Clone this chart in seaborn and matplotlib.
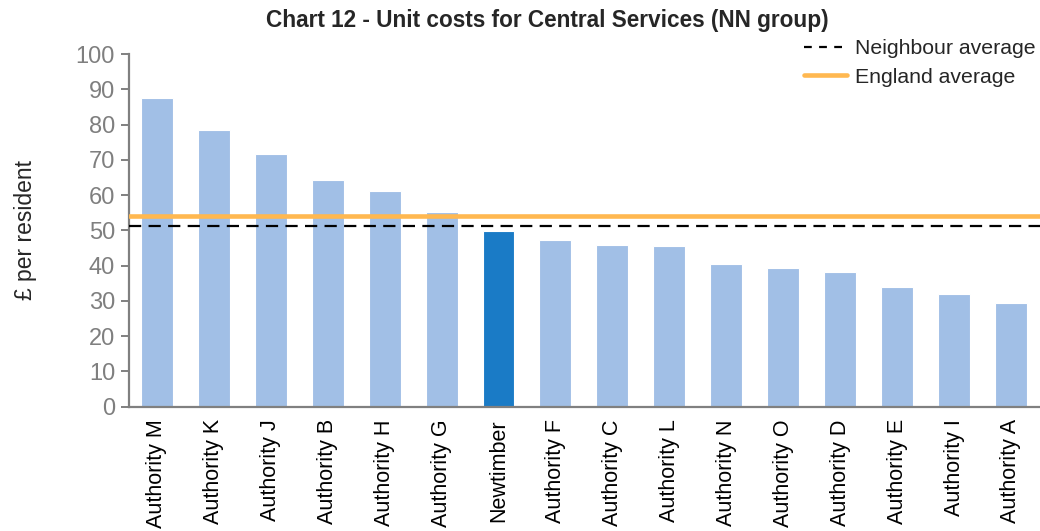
import pandas as pd
import seaborn as sns
import matplotlib
matplotlib.use("Agg")
import matplotlib.pyplot as plt
from matplotlib.lines import Line2D

authorities = ["Authority M", "Authority K", "Authority J", "Authority B", "Authority H",
               "Authority G", "Newtimber", "Authority F", "Authority C", "Authority L",
               "Authority N", "Authority O", "Authority D", "Authority E", "Authority I",
               "Authority A"]
unit_cost = [87.7, 78.5, 71.7, 64.4, 61.3, 55.1, 49.8, 47.3, 46.0, 45.5,
             40.5, 39.3, 38.1, 33.9, 31.9, 29.5]
neighbour_avg = 51.3
england_avg = 54.2

LIGHT = "#A1BFE6"
DARK = "#1A7BC6"
ORANGE = "#FFB850"

df = pd.DataFrame({"Authority": authorities, "Cost": unit_cost})
df["grp"] = ["own" if a == "Newtimber" else "other" for a in authorities]

sns.set_style("white")
plt.rcParams["font.family"] = ["Liberation Sans", "DejaVu Sans"]

fig = plt.figure(figsize=(10.4, 5.31), dpi=100)
ax = fig.add_axes([0.124, 0.234, 0.876, 0.664])

sns.barplot(data=df, x="Authority", y="Cost", hue="grp",
            palette={"own": DARK, "other": LIGHT}, dodge=False, saturation=1,
            width=0.56, legend=False, ax=ax, edgecolor="white", linewidth=0.8)

ax.axhline(england_avg, color=ORANGE, lw=3.3, zorder=3)
ax.axhline(neighbour_avg, color="black", lw=1.6, ls=(0, (5.5, 3.3)), zorder=4)

ax.set_ylim(0, 100)
ax.set_xlim(-0.49, len(authorities) - 0.49)
ax.set_yticks(range(0, 101, 10))
ax.tick_params(axis="y", labelsize=17, colors="#808080", length=6, width=1.4,
               direction="out", left=True, pad=4)
ax.tick_params(axis="y", labelcolor="#7F7F7F")
ax.tick_params(axis="x", labelsize=15.5, labelrotation=90, length=0, pad=9,
               labelcolor="black")
for side in ["top", "right"]:
    ax.spines[side].set_visible(False)
for side in ["left", "bottom"]:
    ax.spines[side].set_color("#808080")
    ax.spines[side].set_linewidth(1.6)

ax.set_xlabel("")
ax.set_ylabel("£ per resident", fontsize=16.5, labelpad=28)
fig.text(0.526, 1 - 20 / 531, "Chart 12 - Unit costs for Central Services (NN group)",
         fontsize=16.3, fontweight="bold", ha="center", va="center")

handles = [Line2D([], [], color="black", lw=1.6, ls=(0, (3.5, 3.3))),
           Line2D([], [], color=ORANGE, lw=3.3)]
ax.legend(handles, ["Neighbour average", "England average"], loc="upper right",
          bbox_to_anchor=(1.012, 1.085), frameon=False, fontsize=15.3,
          handlelength=2.0, handletextpad=0.4, labelspacing=0.45, borderpad=0.2)

fig.savefig("out.png", dpi=100)
